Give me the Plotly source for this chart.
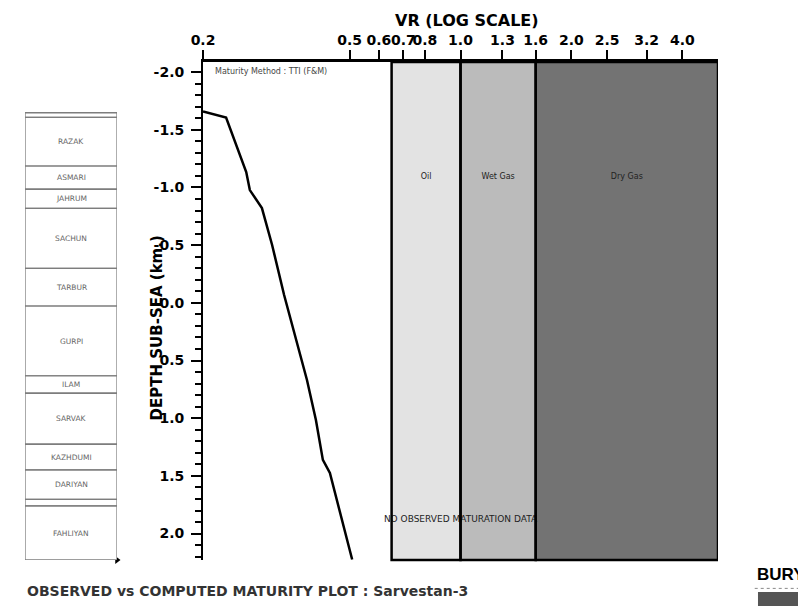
import math
import plotly.graph_objects as go

# ---------------- data ----------------
# computed maturity curve (VR %Ro vs depth sub-sea, km)
vr_values = [0.200, 0.231, 0.262, 0.268, 0.289, 0.308, 0.332, 0.358, 0.383, 0.405, 0.423, 0.442, 0.508]
depth_values = [-1.658, -1.606, -1.133, -0.977, -0.821, -0.501, -0.068, 0.322, 0.669, 1.016, 1.362, 1.475, 2.225]

x_tickvals = [0.2, 0.5, 0.6, 0.7, 0.8, 1.0, 1.3, 1.6, 2.0, 2.5, 3.2, 4.0]
x_ticktext = ["0.2", "0.5", "0.6", "0.7", "0.8", "1.0", "1.3", "1.6", "2.0", "2.5", "3.2", "4.0"]
y_tickvals = [-2.0, -1.5, -1.0, -0.5, 0.0, 0.5, 1.0, 1.5, 2.0]
y_ticktext = ["-2.0", "-1.5", "-1.0", "-0.5", "0.0", "0.5", "1.0", "1.5", "2.0"]

zone_names = ["Oil", "Wet Gas", "Dry Gas"]
zone_lower = [0.65, 1.0, 1.6]
zone_upper = [1.0, 1.6, 5.0]
zone_label_depth = -1.09

formation_names = ["", "RAZAK", "ASMARI", "JAHRUM", "SACHUN", "TARBUR", "GURPI", "ILAM",
                   "SARVAK", "KAZHDUMI", "DARIYAN", "", "FAHLIYAN"]
formation_tops = [-1.647, -1.607, -1.185, -0.984, -0.819, -0.299, 0.028, 0.634,
                  0.784, 1.226, 1.449, 1.703, 1.761]
formation_bases = [-1.607, -1.185, -0.984, -0.819, -0.299, 0.028, 0.634, 0.784,
                   1.226, 1.449, 1.703, 1.761, 2.229]

no_data_text = "NO OBSERVED MATURATION DATA"
no_data_vr = 1.0
no_data_depth = 1.882

x_range_vr = [0.2, 5.0]
y_range = [2.229, -2.087]

# ---------------- style ----------------
zone_colors = ["#e3e3e3", "#bbbbbb", "#737373"]
BOLD = dict(family="DejaVu Sans", size=14, color="black", weight="bold")

fig = go.Figure()

# maturity curve
fig.add_trace(go.Scatter(x=vr_values, y=depth_values, mode="lines",
                         line=dict(color="black", width=2.5),
                         xaxis="x", yaxis="y", hoverinfo="skip"))

# zone labels (geometric centre of each zone on the log axis)
fig.add_trace(go.Scatter(
    x=[math.sqrt(a * b) for a, b in zip(zone_lower, zone_upper)],
    y=[zone_label_depth] * len(zone_names),
    text=zone_names, mode="text", textposition="middle center",
    textfont=dict(family="DejaVu Sans", size=8, color="#222"),
    xaxis="x", yaxis="y", hoverinfo="skip"))

fig.add_trace(go.Scatter(
    x=[no_data_vr], y=[no_data_depth], text=[no_data_text], mode="text",
    textposition="middle center",
    textfont=dict(family="DejaVu Sans", size=9, color="#222"),
    xaxis="x", yaxis="y", hoverinfo="skip", cliponaxis=False))

# formation column subplot anchor + arrow
fig.add_trace(go.Scatter(x=[1.0], y=[formation_bases[-1]], mode="markers",
                         marker=dict(symbol="triangle-right", size=7, color="black"),
                         xaxis="x2", yaxis="y", cliponaxis=False, hoverinfo="skip"))

shapes = []
for lo, hi, col in zip(zone_lower, zone_upper, zone_colors):
    shapes.append(dict(type="rect", xref="x", yref="paper", x0=lo, x1=hi, y0=0, y1=1,
                       fillcolor=col, line=dict(width=0), layer="below"))
for lo, hi in zip(zone_lower, zone_upper):
    shapes.append(dict(type="rect", xref="x", yref="paper", x0=lo, x1=hi, y0=0, y1=1,
                       fillcolor="rgba(0,0,0,0)", line=dict(color="black", width=2.5),
                       layer="above"))

for top, base in zip(formation_tops, formation_bases):
    shapes.append(dict(type="rect", xref="x2", yref="y", x0=0, x1=1, y0=top, y1=base,
                       fillcolor="white", line=dict(color="#7d7d7d", width=1.3)))

# logo bar
shapes.append(dict(type="rect", xref="paper", yref="paper", x0=1.0577, x1=1.12,
                   y0=-0.0924, y1=-0.0643, fillcolor="#555555", line=dict(width=0)))
shapes.append(dict(type="line", xref="paper", yref="paper", x0=1.053, x1=1.12,
                   y0=-0.057, y1=-0.057, line=dict(color="#888", width=1, dash="dot")))

annotations = []
for name, top, base in zip(formation_names, formation_tops, formation_bases):
    if name:
        annotations.append(dict(xref="x2", yref="y", x=0.5, y=(top + base) / 2, text=name,
                                showarrow=False,
                                font=dict(family="DejaVu Sans", size=7.5, color="#666")))

annotations += [
    dict(xref="paper", yref="paper", x=0.6373, y=1.083, text="VR (LOG SCALE)",
         showarrow=False, xanchor="center", yanchor="middle",
         font=dict(family="DejaVu Sans", size=16, color="black", weight="bold")),
    dict(xref="paper", yref="paper", x=0.1905, y=0.465, text="DEPTH SUB-SEA (km.)",
         textangle=-90, showarrow=False, xanchor="center", yanchor="middle",
         font=dict(family="DejaVu Sans", size=15, color="black", weight="bold")),
    dict(xref="paper", yref="paper", x=0.2713, y=0.9805, text="Maturity Method : TTI (F&amp;M)",
         showarrow=False, xanchor="left", yanchor="middle",
         font=dict(family="DejaVu Sans", size=8, color="#444")),
    dict(xref="paper", yref="paper", x=0.0, y=-0.0616,
         text="OBSERVED vs COMPUTED MATURITY PLOT : Sarvestan-3",
         showarrow=False, xanchor="left", yanchor="middle",
         font=dict(family="DejaVu Sans", size=14, color="#333", weight="bold")),
    dict(xref="paper", yref="paper", x=1.0534, y=-0.0301, text="BURY",
         showarrow=False, xanchor="left", yanchor="middle",
         font=dict(family="Liberation Sans", size=17, color="black", weight="bold")),
]

fig.update_layout(
    width=798, height=606,
    margin=dict(l=25, r=80, t=62, b=46, pad=0, autoexpand=False),
    paper_bgcolor="white", plot_bgcolor="rgba(0,0,0,0)",
    showlegend=False,
    xaxis=dict(domain=[0.2569, 1.0], type="log", automargin=False,
               range=[math.log10(x_range_vr[0]), math.log10(x_range_vr[1])],
               side="top", anchor="y", showline=True, linecolor="black", linewidth=2.5,
               ticks="outside", ticklen=9, tickwidth=2, tickcolor="black",
               tickmode="array", tickvals=x_tickvals, ticktext=x_ticktext, tickangle=0,
               tickfont=BOLD, showgrid=False, zeroline=False),
    xaxis2=dict(domain=[0.0, 0.1328], range=[0, 1], visible=False, anchor="y",
                automargin=False),
    yaxis=dict(range=y_range, anchor="x", showline=True, linecolor="black", linewidth=2,
               automargin=False,
               ticks="outside", ticklen=10, tickwidth=2, tickcolor="black",
               tickmode="array", tickvals=y_tickvals, ticktext=y_ticktext,
               tickfont=BOLD, ticklabelstandoff=4,
               minor=dict(tickmode="linear", tick0=0, dtick=0.1, ticks="outside",
                          ticklen=6, tickwidth=2, tickcolor="black"),
               showgrid=False, zeroline=False),
    shapes=shapes, annotations=annotations,
)

fig.write_html("out.html")
